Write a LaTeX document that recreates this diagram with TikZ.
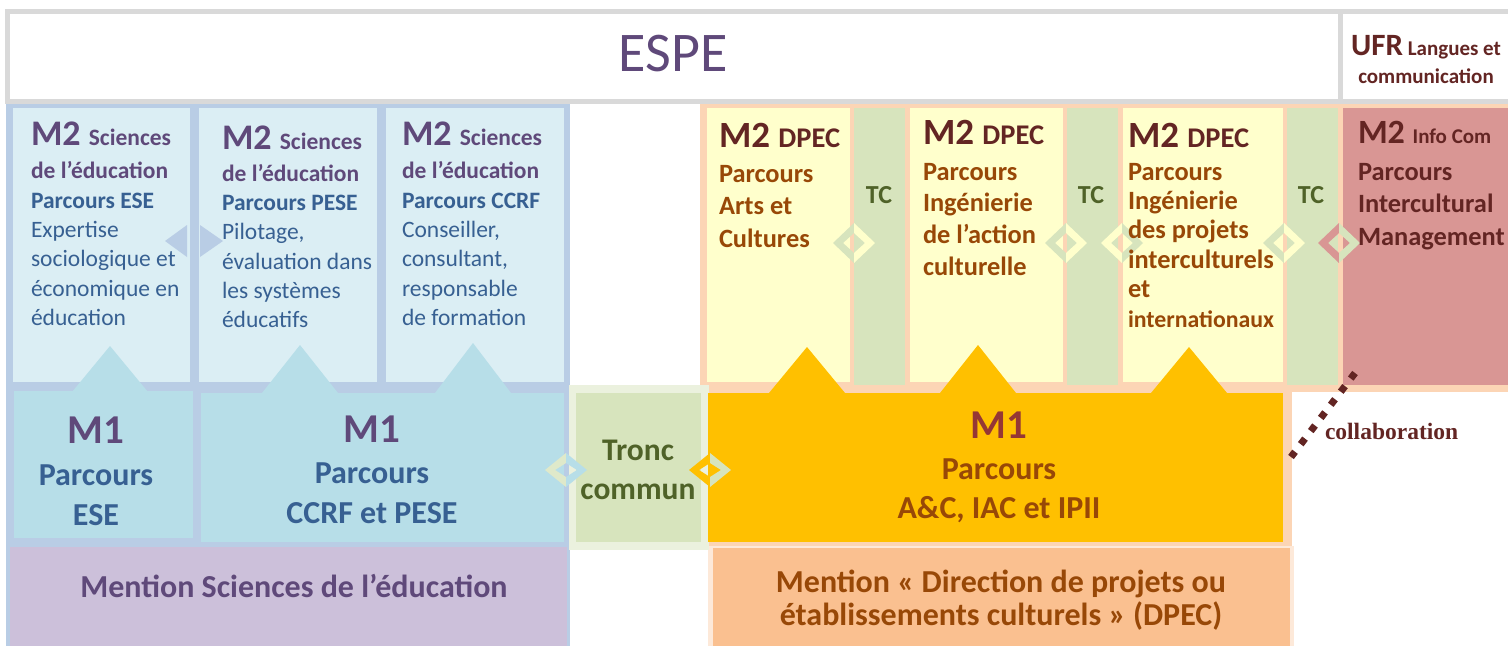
\documentclass[tikz,border=0pt]{standalone}
\usepackage{fontspec}
\setmainfont{Carlito}
\newfontfamily\collabfont{Liberation Serif}
\definecolor{hdrgray}{HTML}{D9D9D9}
\definecolor{bframe}{HTML}{B9CDE5}
\definecolor{m2blue}{HTML}{DBEEF4}
\definecolor{m1blue}{HTML}{B7DEE8}
\definecolor{lav}{HTML}{CCC0DA}
\definecolor{tcl}{HTML}{EBF1DE}
\definecolor{tcg}{HTML}{D7E4BD}
\definecolor{peach}{HTML}{FCD5B5}
\definecolor{peachl}{HTML}{FDE9D9}
\definecolor{ylw}{HTML}{FFFFCC}
\definecolor{gold}{HTML}{FFC000}
\definecolor{mentor}{HTML}{FAC090}
\definecolor{rose}{HTML}{D99694}
\definecolor{purp}{HTML}{5F497A}
\definecolor{bluet}{HTML}{376092}
\definecolor{dred}{HTML}{632523}
\definecolor{brn}{HTML}{984807}
\definecolor{mred}{HTML}{953735}
\definecolor{greent}{HTML}{4F6228}
\newcommand\fs[2]{\fontsize{#1}{#2}\selectfont}
\newcommand\Ltab[1]{\begin{tabular}[t]{@{}l@{}}#1\end{tabular}}
\newcommand\Ctab[1]{\begin{tabular}[t]{@{}c@{}}#1\end{tabular}}
\newcommand\PB[1]{{\color{purp}\bfseries #1}}
\newcommand\BB[1]{{\color{bluet}\bfseries #1}}
\newcommand\BR[1]{{\color{bluet}#1}}
\newcommand\DB[1]{{\color{dred}\bfseries #1}}
\newcommand\RB[1]{{\color{brn}\bfseries #1}}
% split diamond: cx, cy, half-width, half-height, left colour, right colour
\newcommand\splitdiamond[6]{%
  \fill[#5] ({#1},{#2-#4}) -- ({#1-#3},{#2}) -- ({#1},{#2+#4}) -- ({#1},{#2+#4-10}) -- ({#1-#3+10},{#2}) -- ({#1},{#2-#4+10}) -- cycle;
  \fill[#6] ({#1},{#2-#4}) -- ({#1+#3},{#2}) -- ({#1},{#2+#4}) -- ({#1},{#2+#4-10}) -- ({#1+#3-10},{#2}) -- ({#1},{#2-#4+10}) -- cycle;
}
\begin{document}
\begin{tikzpicture}[x=1pt,y=-1pt,
  txt/.style={inner sep=0pt,outer sep=0pt,anchor=base west},
  ctxt/.style={inner sep=0pt,outer sep=0pt,anchor=base}]
\useasboundingbox (0,0) rectangle (1508,646);
\fill[white] (0,0) rectangle (1508,646);
% header frame
\fill[hdrgray] (5,9) rectangle (1508,104);
\fill[white] (10,14) rectangle (1338,99);
\fill[white] (1343,14) rectangle (1508,99);
% blue (Sciences de l'education) block
\fill[bframe] (6,104) rectangle (570,646);
\fill[m2blue] (13,108) rectangle (190,382);
\fill[m2blue] (199,108) rectangle (377,382);
\fill[m2blue] (386,108) rectangle (564,382);
\fill[m1blue] (14,391) rectangle (193,538);
\fill[m1blue] (201,393) rectangle (564,542);
\fill[lav] (10,547) rectangle (567,646);
\fill[m1blue] (110,346) -- (72,392) -- (148,392) -- cycle;
\fill[m1blue] (300,345) -- (262,393) -- (338,393) -- cycle;
\fill[m1blue] (473,343) -- (435,393) -- (511,393) -- cycle;
% peach (DPEC) block
\fill[peach] (700,104) rectangle (1508,392);
\fill[peach] (703,392) rectangle (1292,546);
\fill[peachl] (708,546) rectangle (1294,646);
\fill[mentor] (713,548) rectangle (1290,646);
\fill[ylw] (707,108) rectangle (850,382);
\fill[tcg] (854,108) rectangle (905,385);
\fill[ylw] (910,108) rectangle (1063,382);
\fill[tcg] (1067,108) rectangle (1118,385);
\fill[ylw] (1123,108) rectangle (1283,382);
\fill[tcg] (1287,108) rectangle (1338,385);
\fill[rose] (1343,108) rectangle (1508,385);
% tronc commun
\fill[tcl] (569,385) rectangle (709,550);
\fill[tcg] (576,393) rectangle (701,542);
% M1 DPEC
\fill[gold] (708,393) rectangle (1283,542);
\fill[gold] (807,347) -- (769,393) -- (845,393) -- cycle;
\fill[gold] (978,345) -- (940,393) -- (1016,393) -- cycle;
\fill[gold] (1189,347) -- (1151,393) -- (1227,393) -- cycle;
% connectors
\fill[bframe] (187,225) -- (165,241) -- (187,257) -- cycle;
\fill[bframe] (200,225) -- (223,241) -- (200,257) -- cycle;
\splitdiamond{854}{243}{21}{20}{tcg}{ylw}
\splitdiamond{1066}{243}{21}{20}{tcg}{ylw}
\splitdiamond{1122}{243}{21}{20}{ylw}{tcg}
\splitdiamond{1284}{243}{21}{20}{tcg}{ylw}
\splitdiamond{1339}{243}{21}{20}{rose}{tcg}
\splitdiamond{566}{470}{21}{17}{tcg!60!tcl}{m1blue}
\splitdiamond{710}{470}{21}{17}{gold}{tcg}
% collaboration
\coordinate (colA) at (1355,373);
\coordinate (colB) at (1291,457);
\draw[dred,line width=7pt,dash pattern=on 7pt off 9.5pt] (colA) -- (colB);
\node[txt,font=\collabfont\bfseries\fs{23.5}{23.5},text=dred] (collab) at (1325,439) {collaboration};
% header texts
\node[ctxt,font=\fs{56}{56},text=purp] (espe) at (673,71) {ESPE};
\node[ctxt,font=\fs{21}{28}\bfseries,text=dred] (ufr) at (1426,55) {\Ctab{{\fs{31}{31}UFR} Langues et\\ communication}};
% M2 Sciences de l'education
\node[txt,font=\fs{23.5}{29.3}] (m2ese) at (31,145) {\Ltab{\PB{{\fs{36}{36}M2 }Sciences}\\[4.5pt] \PB{de l’éducation}\\ \BB{Parcours ESE}\\ \BR{Expertise}\\ \BR{sociologique et}\\ \BR{économique en}\\ \BR{éducation}}};
\node[txt,font=\fs{23.5}{29.3}] (m2pese) at (222,149) {\Ltab{\PB{{\fs{36}{36}M2 }Sciences}\\[3pt] \PB{de l’éducation}\\ \BB{Parcours PESE}\\ \BR{Pilotage,}\\ \BR{évaluation dans}\\ \BR{les systèmes}\\ \BR{éducatifs}}};
\node[txt,font=\fs{23.5}{29.3}] (m2ccrf) at (402,145) {\Ltab{\PB{{\fs{36}{36}M2 }Sciences}\\[4.5pt] \PB{de l’éducation}\\ \BB{Parcours CCRF}\\ \BR{Conseiller,}\\ \BR{consultant,}\\ \BR{responsable}\\ \BR{de formation}}};
% M2 DPEC
\node[txt,font=\fs{26.4}{32.5}] (m2ac) at (719,147) {\Ltab{\DB{{\fs{37}{37}M2 }{\fs{28.5}{28.5}DPEC}}\\[2.5pt] \RB{Parcours}\\ \RB{Arts et}\\ \RB{Cultures}}};
\node[txt,font=\fs{26.4}{31.7}] (m2iac) at (923,144) {\Ltab{\DB{{\fs{37}{37}M2 }{\fs{28.5}{28.5}DPEC}}\\[4.3pt] \RB{Parcours}\\ \RB{Ingénierie}\\ \RB{de l’action}\\ \RB{culturelle}}};
\node[txt,font=\fs{26.4}{29.4}] (m2ipii) at (1128,147) {\Ltab{\DB{{\fs{37}{37}M2 }{\fs{28.5}{28.5}DPEC}}\\[3.6pt] \RB{Parcours}\\ \RB{Ingénierie}\\ \RB{des projets}\\ \RB{interculturels}\\ \RB{et}\\ \RB{\fs{23.8}{23.8}internationaux}}};
\node[txt,font=\fs{26.4}{32.5}] (m2ic) at (1358,143) {\Ltab{\DB{{\fs{34}{34}M2 }{\fs{21}{21}Info Com}}\\[4.5pt] \DB{Parcours}\\ \DB{Intercultural}\\ \DB{Management}}};
\node[ctxt,font=\fs{26}{26}\bfseries,text=greent] (tc1) at (879,203) {TC};
\node[ctxt,font=\fs{26}{26}\bfseries,text=greent] (tc2) at (1091,203) {TC};
\node[ctxt,font=\fs{26}{26}\bfseries,text=greent] (tc3) at (1311,203) {TC};
% M1
\node[ctxt,font=\fs{32}{40.5}] (m1ese) at (96,443) {\Ctab{\PB{\fs{41}{41}M1}\\[1.5pt] \BB{Parcours}\\ \BB{ESE}}};
\node[ctxt,font=\fs{32}{40.5}] (m1ccrf) at (372,442) {\Ctab{\PB{\fs{41}{41}M1}\\[0.5pt] \BB{Parcours}\\ \BB{CCRF et PESE}}};
\node[ctxt,font=\fs{31.5}{39}\bfseries,text=greent] (tronc) at (638,460) {\Ctab{Tronc\\ commun}};
\node[ctxt,font=\fs{32}{39.5}] (m1dpec) at (999,438) {\Ctab{{\color{mred}\bfseries\fs{41}{41}M1}\\[1.5pt] \RB{Parcours}\\ \RB{A\&C, IAC et IPII}}};
% mentions
\node[ctxt,font=\fs{32}{32}\bfseries,text=purp] (mentse) at (294,597) {Mention Sciences de l’éducation};
\node[ctxt,font=\fs{32}{31}\bfseries,text=brn] (mentdpec) at (1001,592) {\Ctab{Mention « Direction de projets ou\\ établissements culturels » (DPEC)}};
\end{tikzpicture}
\end{document}
